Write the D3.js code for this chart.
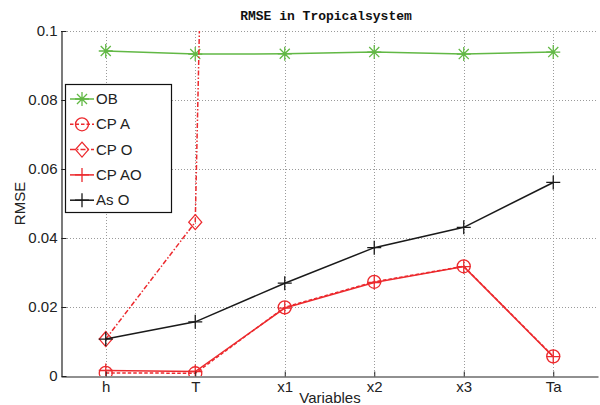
<!DOCTYPE html>
<html><head><meta charset="utf-8">
<script src="https://cdn.jsdelivr.net/npm/d3@7"></script>
<style>body{margin:0;background:#fff}</style>
</head><body>
<svg id="c" width="600" height="405"></svg>
<script>
const categories = ["h","T","x1","x2","x3","Ta"];
const OB   = [0.0942, 0.0933, 0.0934, 0.0939, 0.0933, 0.0939];
const CPA  = [0.0009, 0.0008, 0.0199, 0.0273, 0.0318, 0.0057];
const CPO  = [0.0107, 0.0446, 1.25, null, null, null];
const CPAO = [0.0016, 0.0013, 0.0197, 0.0271, 0.0317, 0.0056];
const AsO  = [0.0107, 0.0157, 0.0269, 0.0372, 0.0431, 0.0561];
const yTicks = [0, 0.02, 0.04, 0.06, 0.08, 0.1];
const yTickLabels = ["0","0.02","0.04","0.06","0.08","0.1"];
const seriesNames = ["OB","CP A","CP O","CP AO","As O"];

const GREEN = "#62b845", RED = "#ec2a2e", BLACK = "#1a1a1a";
const series = [
  {name: seriesNames[0], values: OB,   color: GREEN, dash: null,        marker: "star"},
  {name: seriesNames[1], values: CPA,  color: RED,   dash: "3.5,2",     marker: "circle"},
  {name: seriesNames[2], values: CPO,  color: RED,   dash: "5,2,1.5,2", marker: "diamond"},
  {name: seriesNames[3], values: CPAO, color: RED,   dash: null,        marker: "plus"},
  {name: seriesNames[4], values: AsO,  color: BLACK, dash: null,        marker: "plus"}
];

const L = 61, R = 598, T = 31, B = 376;
const svg = d3.select("#c");
const x = d3.scaleLinear().domain([0.5, 6.5]).range([L, R]);
const y = d3.scaleLinear().domain([0, 0.1]).range([B, T]);

// grid
const grid = svg.append("g").attr("stroke", "#9a9a9a").attr("stroke-width", 1).attr("stroke-dasharray", "1,2");
categories.forEach((c, i) => grid.append("line").attr("x1", Math.round(x(i+1))+0.5).attr("x2", Math.round(x(i+1))+0.5).attr("y1", T).attr("y2", B));
yTicks.forEach(t => { if (t > 0) grid.append("line").attr("x1", L).attr("x2", R).attr("y1", Math.round(y(t))+0.5).attr("y2", Math.round(y(t))+0.5); });

// clip
svg.append("clipPath").attr("id", "clip").append("rect").attr("x", L).attr("y", T).attr("width", R - L).attr("height", B - T);

function markerPath(type, s) {
  const p = d3.path();
  if (type === "circle") { p.moveTo(s, 0); p.arc(0, 0, s, 0, 2*Math.PI); }
  else if (type === "diamond") { p.moveTo(0, -s*1.15); p.lineTo(s, 0); p.lineTo(0, s*1.15); p.lineTo(-s, 0); p.closePath(); }
  else if (type === "plus") { p.moveTo(-s, 0); p.lineTo(s, 0); p.moveTo(0, -s); p.lineTo(0, s); }
  else if (type === "star") {
    p.moveTo(-s, 0); p.lineTo(s, 0); p.moveTo(0, -s); p.lineTo(0, s);
    const d = s*0.72; p.moveTo(-d, -d); p.lineTo(d, d); p.moveTo(-d, d); p.lineTo(d, -d);
  }
  return p.toString();
}
const msize = {circle: 6.5, diamond: 6.5, plus: 7, star: 7};

const plot = svg.append("g").attr("clip-path", "url(#clip)");
const line = d3.line().defined(d => d.v !== null).x(d => x(d.i + 1)).y(d => y(d.v));
series.forEach(s => {
  const pts = s.values.map((v, i) => ({v, i}));
  plot.append("path").attr("d", line(pts)).attr("fill", "none").attr("stroke", s.color)
    .attr("stroke-width", 1.5).attr("stroke-dasharray", s.dash);
  pts.filter(d => d.v !== null).forEach(d => {
    plot.append("path").attr("d", markerPath(s.marker, msize[s.marker]))
      .attr("transform", `translate(${x(d.i+1)},${y(d.v)})`)
      .attr("fill", "none").attr("stroke", s.color).attr("stroke-width", 1.3);
  });
});

// axes
const font = "Liberation Sans, Arial, Helvetica, sans-serif";
const yAxis = d3.axisLeft(y).tickValues(yTicks).tickFormat((d, i) => yTickLabels[i]).tickSizeInner(-5).tickSizeOuter(0).tickPadding(4);
const gy = svg.append("g").attr("transform", `translate(${L+0.5},0)`).call(yAxis);
const xAxis = d3.axisBottom(x).tickValues(categories.map((c, i) => i + 1)).tickFormat((d, i) => categories[i]).tickSizeInner(-5).tickSizeOuter(0).tickPadding(5);
const gx = svg.append("g").attr("transform", `translate(0,${B+0.5})`).call(xAxis);
[gx, gy].forEach(g => {
  g.select(".domain").attr("stroke", "#222").attr("stroke-width", 1.2);
  g.selectAll(".tick line").attr("stroke", "#222");
  g.selectAll("text").attr("font-family", font).attr("font-size", 15).attr("fill", "#222");
});
// top-left corner stub
svg.append("line").attr("x1", L).attr("x2", L+5).attr("y1", T+0.5).attr("y2", T+0.5).attr("stroke", "#222");

// labels
svg.append("text").attr("x", 330).attr("y", 403).attr("text-anchor", "middle")
  .attr("font-family", font).attr("font-size", 15).attr("fill", "#222").text("Variables");
svg.append("text").attr("transform", `translate(25,${(T+B)/2}) rotate(-90)`).attr("text-anchor", "middle")
  .attr("font-family", font).attr("font-size", 15).attr("fill", "#222").text("RMSE");
svg.append("text").attr("x", 326).attr("y", 20).attr("text-anchor", "middle")
  .attr("font-family", "Liberation Mono, DejaVu Sans Mono, monospace").attr("font-weight", "bold")
  .attr("font-size", 13).attr("fill", "#111").text("RMSE in Tropicalsystem");

// legend
const lg = svg.append("g");
lg.append("rect").attr("x", 65.5).attr("y", 84.5).attr("width", 106).attr("height", 128)
  .attr("fill", "#fff").attr("stroke", "#111").attr("stroke-width", 1.2);
series.forEach((s, i) => {
  const yy = 99 + i * 25.3;
  lg.append("line").attr("x1", 70).attr("x2", 94).attr("y1", yy).attr("y2", yy)
    .attr("stroke", s.color).attr("stroke-width", 1.5).attr("stroke-dasharray", s.dash);
  lg.append("path").attr("d", markerPath(s.marker, msize[s.marker])).attr("transform", `translate(82,${yy})`)
    .attr("fill", "none").attr("stroke", s.color).attr("stroke-width", 1.3);
  lg.append("text").attr("x", 96).attr("y", yy + 5).attr("font-family", font).attr("font-size", 15)
    .attr("fill", "#222").text(s.name);
});
</script>
</body></html>
